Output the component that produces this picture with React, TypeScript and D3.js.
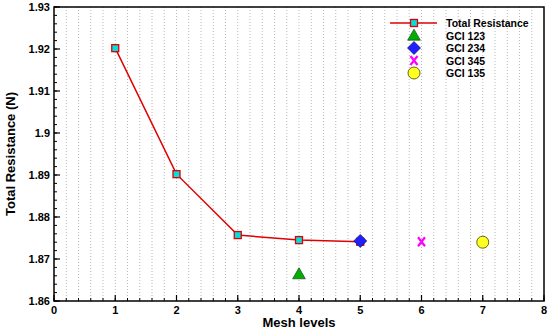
import React, { useRef, useEffect } from 'react';
import * as d3 from 'd3';

const meshLevels = [1, 2, 3, 4, 5];
const totalResistance = [1.9202, 1.8902, 1.8757, 1.8745, 1.8741];
const gci123 = { x: 4, y: 1.8664 };
const gci234 = { x: 5, y: 1.8743 };
const gci345 = { x: 6, y: 1.8741 };
const gci135 = { x: 7, y: 1.8740 };
const xTicks = [0, 1, 2, 3, 4, 5, 6, 7, 8];
const yTicks = [1.86, 1.87, 1.88, 1.89, 1.9, 1.91, 1.92, 1.93];
const legendLabels = ['Total Resistance', 'GCI 123', 'GCI 234', 'GCI 345', 'GCI 135'];

const App = () => {
  const ref = useRef<SVGSVGElement>(null);

  useEffect(() => {
    const width = 550;
    const height = 333;
    const margin = { top: 7, right: 6, bottom: 32, left: 54 };
    const svg = d3.select(ref.current);
    svg.selectAll('*').remove();
    const font = 'Arial, "Liberation Sans", sans-serif';

    const x = d3.scaleLinear().domain([0, 8]).range([margin.left, width - margin.right]);
    const y = d3.scaleLinear().domain([1.86, 1.93]).range([height - margin.bottom, margin.top]);

    // vertical dotted grid
    const minorX = d3.range(0, 8.001, 0.2);
    svg.append('g')
      .selectAll('line')
      .data(minorX.filter(d => d > 0.01 && d < 7.99))
      .enter().append('line')
      .attr('x1', d => x(d)).attr('x2', d => x(d))
      .attr('y1', y(1.93)).attr('y2', y(1.86))
      .attr('stroke', '#b8b8b8')
      .attr('stroke-width', 1)
      .attr('stroke-dasharray', '1,2');

    // frame
    svg.append('rect')
      .attr('x', x(0)).attr('y', y(1.93))
      .attr('width', x(8) - x(0)).attr('height', y(1.86) - y(1.93))
      .attr('fill', 'none').attr('stroke', '#000').attr('stroke-width', 1.5);

    // x ticks
    const gx = svg.append('g');
    gx.selectAll('.minor').data(minorX).enter().append('line')
      .attr('x1', d => x(d)).attr('x2', d => x(d))
      .attr('y1', y(1.86)).attr('y2', y(1.86) - 3)
      .attr('stroke', '#000');
    gx.selectAll('.major').data(xTicks).enter().append('line')
      .attr('x1', d => x(d)).attr('x2', d => x(d))
      .attr('y1', y(1.86)).attr('y2', y(1.86) - 6)
      .attr('stroke', '#000').attr('stroke-width', 1.2);
    gx.selectAll('text').data(xTicks).enter().append('text')
      .attr('x', d => x(d)).attr('y', y(1.86) + 13)
      .attr('text-anchor', 'middle')
      .attr('font-family', font).attr('font-weight', 'bold').attr('font-size', 11)
      .text(d => String(d));

    // y ticks
    const minorY = d3.range(1.86, 1.9301, 0.002);
    const gy = svg.append('g');
    gy.selectAll('.minor').data(minorY).enter().append('line')
      .attr('x1', x(0)).attr('x2', x(0) + 3)
      .attr('y1', d => y(d)).attr('y2', d => y(d))
      .attr('stroke', '#000');
    gy.selectAll('.major').data(yTicks).enter().append('line')
      .attr('x1', x(0)).attr('x2', x(0) + 6)
      .attr('y1', d => y(d)).attr('y2', d => y(d))
      .attr('stroke', '#000').attr('stroke-width', 1.2);
    gy.selectAll('text').data(yTicks).enter().append('text')
      .attr('x', x(0) - 4).attr('y', d => y(d) + 4)
      .attr('text-anchor', 'end')
      .attr('font-family', font).attr('font-weight', 'bold').attr('font-size', 11)
      .text(d => d3.format('~g')(+d.toFixed(2)));

    // axis titles
    svg.append('text')
      .attr('x', x(4)).attr('y', height - 6)
      .attr('text-anchor', 'middle')
      .attr('font-family', font).attr('font-weight', 'bold').attr('font-size', 13)
      .text('Mesh levels');
    svg.append('text')
      .attr('transform', `translate(15,${(y(1.86) + y(1.93)) / 2}) rotate(-90)`)
      .attr('text-anchor', 'middle')
      .attr('font-family', font).attr('font-weight', 'bold').attr('font-size', 13)
      .text('Total Resistance (N)');

    // line
    const pts = meshLevels.map((m, i) => [m, totalResistance[i]] as [number, number]);
    svg.append('path')
      .datum(pts)
      .attr('d', d3.line<[number, number]>().x(d => x(d[0])).y(d => y(d[1])))
      .attr('fill', 'none').attr('stroke', '#e00000').attr('stroke-width', 1.5);

    const square = (g: any, cx: number, cy: number) => {
      g.append('rect')
        .attr('x', cx - 3.5).attr('y', cy - 3.5).attr('width', 7).attr('height', 7)
        .attr('fill', '#00e0e0').attr('stroke', '#e00000').attr('stroke-width', 1.3);
    };
    const tri = (g: any, cx: number, cy: number) => {
      g.append('path')
        .attr('d', d3.symbol(d3.symbolTriangle, 70)())
        .attr('transform', `translate(${cx},${cy + 1})`)
        .attr('fill', '#00b000').attr('stroke', '#204020').attr('stroke-width', 0.7);
    };
    const diamond = (g: any, cx: number, cy: number) => {
      g.append('path')
        .attr('d', `M0,-6.5L6.5,0L0,6.5L-6.5,0Z`)
        .attr('transform', `translate(${cx},${cy})`)
        .attr('fill', '#2020ff').attr('stroke', '#101060').attr('stroke-width', 0.7);
    };
    const cross = (g: any, cx: number, cy: number) => {
      g.append('path')
        .attr('d', `M-3.5,-4.5L3.5,4.5M3.5,-4.5L-3.5,4.5`)
        .attr('transform', `translate(${cx},${cy})`)
        .attr('fill', 'none').attr('stroke', '#ff00ff').attr('stroke-width', 2.2);
    };
    const circle = (g: any, cx: number, cy: number) => {
      g.append('circle')
        .attr('cx', cx).attr('cy', cy).attr('r', 6)
        .attr('fill', '#ffff20').attr('stroke', '#404000').attr('stroke-width', 0.8);
    };

    const marks = svg.append('g');
    pts.forEach(p => square(marks, x(p[0]), y(p[1])));
    tri(marks, x(gci123.x), y(gci123.y));
    diamond(marks, x(gci234.x), y(gci234.y));
    cross(marks, x(gci345.x), y(gci345.y));
    circle(marks, x(gci135.x), y(gci135.y));

    // legend
    const lg = svg.append('g');
    const lx = 414;
    const ly = 23;
    const dy = 12.5;
    lg.append('line')
      .attr('x1', lx - 24).attr('x2', lx + 23).attr('y1', ly).attr('y2', ly)
      .attr('stroke', '#e00000').attr('stroke-width', 1.5);
    square(lg, lx, ly);
    tri(lg, lx, ly + dy);
    diamond(lg, lx, ly + dy * 2);
    cross(lg, lx, ly + dy * 3);
    circle(lg, lx, ly + dy * 4);
    lg.selectAll('text').data(legendLabels).enter().append('text')
      .attr('x', 446).attr('y', (d, i) => ly + i * dy + 4)
      .attr('font-family', font).attr('font-weight', 'bold').attr('font-size', 10.5)
      .text(d => d);
  }, []);

  return (
    <svg ref={ref} width={550} height={333} style={{ position: 'absolute', left: 0, top: 0, background: '#fff' }}></svg>
  );
};

export default App;
